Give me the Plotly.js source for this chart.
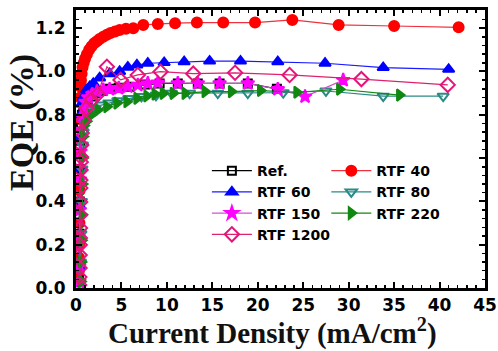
<!DOCTYPE html>
<html>
<head>
<meta charset="utf-8">
<script src="https://cdn.plot.ly/plotly-3.0.1.min.js"></script>
<style>html,body{margin:0;padding:0;background:#fff;}#chart{width:498px;height:351px;}</style>
</head>
<body>
<div id="chart"></div>
<script>
// ---- data ----
const seriesNames = ["Ref.", "RTF 40", "RTF 60", "RTF 80", "RTF 150", "RTF 220", "RTF 1200"];

const xRef = [0.32,0.35,0.38,0.41,0.44,0.48,0.55,0.65,0.8,1.0,1.3,1.7,2.2,2.9,3.7,4.7,5.9,7.6,9.2,11.2,13.4,15.8,18.9,22.1];
const yRef = [0.04,0.12,0.25,0.40,0.55,0.68,0.76,0.80,0.83,0.855,0.87,0.885,0.90,0.91,0.92,0.925,0.93,0.94,0.945,0.945,0.945,0.945,0.945,0.92];

const x40 = [0.30,0.32,0.34,0.36,0.38,0.40,0.42,0.44,0.46,0.50,0.55,0.62,0.72,0.85,1.0,1.2,1.45,1.7,2.0,2.3,2.6,3.0,3.4,3.8,4.3,4.8,5.5,6.3,7.4,9.0,10.9,13.3,16.2,19.7,23.8,28.9,35.0,42.1];
const y40 = [0.03,0.08,0.14,0.20,0.30,0.45,0.62,0.78,0.88,0.93,0.96,0.99,1.02,1.04,1.06,1.08,1.10,1.115,1.13,1.14,1.15,1.16,1.17,1.178,1.185,1.192,1.197,1.20,1.215,1.219,1.223,1.226,1.226,1.226,1.238,1.215,1.21,1.204];

const x60 = [0.30,0.33,0.36,0.39,0.42,0.46,0.52,0.62,0.8,1.17,1.5,1.9,2.6,3.7,4.8,5.7,6.7,7.9,9.7,11.9,14.7,18.1,22.2,27.4,33.8,41.0];
const y60 = [0.02,0.10,0.22,0.38,0.55,0.70,0.80,0.85,0.88,0.915,0.93,0.945,0.97,0.99,1.0,1.02,1.03,1.038,1.041,1.045,1.048,1.048,1.045,1.038,1.018,1.01];

const x80 = [0.45,0.5,0.55,0.6,0.66,0.72,0.8,0.95,1.2,1.6,2.1,2.8,3.6,4.6,5.8,7.2,8.8,10.5,12.5,15.6,18.9,22.8,27.5,33.8,40.4];
const y80 = [0.03,0.12,0.25,0.40,0.55,0.66,0.72,0.76,0.79,0.81,0.83,0.845,0.855,0.865,0.875,0.885,0.89,0.90,0.90,0.90,0.90,0.902,0.91,0.886,0.886];

const x150 = [0.33,0.36,0.39,0.42,0.45,0.5,0.58,0.7,0.85,1.05,1.35,1.8,2.3,3.0,3.7,4.7,5.7,6.8,7.9,9.0,11.2,13.4,15.8,18.9,22.2,25.2,29.4];
const y150 = [0.03,0.10,0.22,0.36,0.50,0.63,0.73,0.79,0.83,0.86,0.88,0.895,0.907,0.915,0.918,0.923,0.93,0.937,0.945,0.948,0.945,0.945,0.945,0.945,0.918,0.884,0.96];

const x220 = [0.55,0.6,0.64,0.68,0.72,0.76,0.8,0.9,1.17,1.7,2.4,3.4,4.5,5.6,6.7,7.8,8.7,9.6,10.7,12.0,14.2,17.1,20.3,24.3,29.0,35.6];
const y220 = [0.03,0.12,0.22,0.34,0.48,0.60,0.70,0.75,0.77,0.80,0.822,0.837,0.854,0.86,0.876,0.887,0.895,0.899,0.899,0.899,0.907,0.907,0.912,0.904,0.918,0.891];

const x1200 = [0.35,0.37,0.39,0.40,0.42,0.43,0.44,0.45,0.46,0.47,0.48,0.50,0.52,0.55,0.58,0.63,0.8,1.17,1.7,2.4,3.4,4.9,6.8,9.3,12.9,17.5,23.5,31.4,40.9];
const y1200 = [0.014,0.051,0.092,0.152,0.199,0.231,0.277,0.337,0.397,0.462,0.499,0.545,0.582,0.605,0.66,0.716,0.776,0.831,0.868,0.895,1.022,0.961,0.984,0.999,0.99,0.994,0.984,0.965,0.938];

const xTicks = [0,5,10,15,20,25,30,35,40,45];
const yTicks = [0.0,0.2,0.4,0.6,0.8,1.0,1.2];
const xTitle = "Current Density (mA/cm<sup>2</sup>)";
const yTitle = "EQE (%)";

// ---- traces ----
function tr(x, y, name, lineColor, symbol, mColor, mLine, legendId, size) {
  return {
    type: 'scatter', mode: 'lines+markers', x: x, y: y, name: name,
    legend: legendId,
    line: {color: lineColor, width: 1.2},
    marker: {symbol: symbol, size: size || 10, color: mColor, line: {color: mLine, width: 2}}
  };
}
const data = [
  tr(xRef, yRef, seriesNames[0], '#000000', 'square-open', '#000000', '#000000', 'legend', 8),
  tr(x40, y40, seriesNames[1], '#f0303c', 'circle', '#ff0000', '#ff0000', 'legend2', 10),
  tr(x60, y60, seriesNames[2], '#1a1aff', 'triangle-up', '#0000ff', '#0000ff', 'legend', 10),
  tr(x80, y80, seriesNames[3], '#2a8a86', 'triangle-down-open', '#2a8a86', '#2a8a86', 'legend2', 10),
  tr(x150, y150, seriesNames[4], '#cc55cc', 'star', '#ff00ff', '#ff00ff', 'legend', 10),
  tr(x220, y220, seriesNames[5], '#118811', 'triangle-right', '#118811', '#118811', 'legend2', 10),
  tr(x1200, y1200, seriesNames[6], '#e0206e', 'diamond-open', '#e6147a', '#e6147a', 'legend', 11)
];

const tickFont = {family: 'DejaVu Sans', size: 17, weight: 'bold', color: '#000'};
const legFont = {family: 'DejaVu Sans', size: 14, weight: 'bold', color: '#000'};

const layout = {
  width: 498, height: 351,
  margin: {l: 76, r: 13, t: 10, b: 63},
  paper_bgcolor: '#fff', plot_bgcolor: '#fff',
  showlegend: true,
  xaxis: {
    range: [0, 45], tickvals: xTicks, ticktext: xTicks.map(String),
    showgrid: false, zeroline: false,
    showline: true, linewidth: 3, linecolor: '#000', mirror: 'ticks',
    ticks: 'inside', ticklen: 6, tickwidth: 2, tickcolor: '#000',
    minor: {ticks: 'inside', ticklen: 3, tickwidth: 1.5, tickcolor: '#000', dtick: 1, showgrid: false},
    tickfont: tickFont, ticklabelstandoff: 0
  },
  yaxis: {
    range: [0, 1.284], tickvals: yTicks, ticktext: yTicks.map(v => v.toFixed(1)),
    showgrid: false, zeroline: false,
    showline: true, linewidth: 3, linecolor: '#000', mirror: 'ticks',
    ticks: 'inside', ticklen: 6, tickwidth: 2, tickcolor: '#000',
    minor: {ticks: 'inside', ticklen: 3, tickwidth: 1.5, tickcolor: '#000', dtick: 0.04, showgrid: false},
    tickfont: tickFont, ticklabelstandoff: 4
  },
  annotations: [{
    text: yTitle, xref: 'paper', yref: 'paper', x: -0.132, y: 0.594,
    xanchor: 'center', yanchor: 'middle', textangle: -90, showarrow: false,
    font: {family: 'Liberation Serif', size: 34, weight: 'bold', color: '#111'}
  }, {
    text: xTitle, xref: 'paper', yref: 'paper', x: 0.48, y: -0.226,
    xanchor: 'center', yanchor: 'bottom', showarrow: false, borderpad: 0,
    font: {family: 'Liberation Serif', size: 29, weight: 'bold', color: '#111'}
  }],
  legend: {
    x: 0.32, y: 0.478, xanchor: 'left', yanchor: 'top', orientation: 'v',
    bgcolor: 'rgba(0,0,0,0)', borderwidth: 0, font: legFont, itemwidth: 40, tracegroupgap: 0
  },
  legend2: {
    x: 0.612, y: 0.478, xanchor: 'left', yanchor: 'top', orientation: 'v',
    bgcolor: 'rgba(0,0,0,0)', borderwidth: 0, font: legFont, itemwidth: 40, tracegroupgap: 0
  }
};

Plotly.newPlot('chart', data, layout, {displayModeBar: false, staticPlot: true});
</script>
</body>
</html>
